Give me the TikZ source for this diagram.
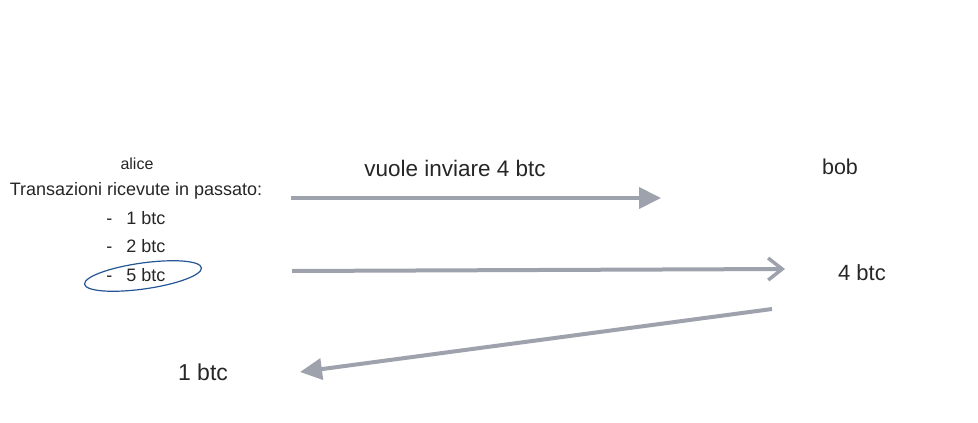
\documentclass[tikz,border=0pt]{standalone}
\usepackage{fontspec}
\setmainfont{Liberation Sans}
\usetikzlibrary{arrows.meta}
\definecolor{arrowgray}{RGB}{158,162,172}
\definecolor{penblue}{RGB}{36,86,150}
\begin{document}
\begin{tikzpicture}[x=1pt,y=-1pt,
    txt/.style={inner sep=0pt,anchor=center,text=black!85},
    flow/.style={draw=arrowgray,line width=4pt},
    solid head/.style={-{Triangle[length=22pt,width=21pt]}},
    open head/.style={-{Straight Barb[length=14pt,width=22pt,line width=3.5pt]}}]
    \useasboundingbox (0,0) rectangle (978,423);
    % alice and her past transactions
    \node[txt,font=\fontsize{16}{18}\selectfont] (alice) at (137,164) {alice};
    \node[txt,font=\fontsize{18}{20}\selectfont] (past) at (136,191) {Transazioni ricevute in passato:};
    \node[txt,font=\fontsize{18}{20}\selectfont] (one) at (136,218) {-\hspace{14pt}1 btc};
    \node[txt,font=\fontsize{18}{20}\selectfont] (two) at (136,246) {-\hspace{14pt}2 btc};
    \node[txt,font=\fontsize{18}{20}\selectfont] (five) at (136,275) {-\hspace{14pt}5 btc};
    \draw[penblue,line width=1.2pt,rotate around={8:(143,276)}] (143,276) ellipse (59pt and 13pt);
    % bob and the messages
    \node[txt,font=\fontsize{22.5}{24}\selectfont] (wants) at (455,168) {vuole inviare 4 btc};
    \node[txt,font=\fontsize{21.5}{24}\selectfont] (bob) at (840,167) {bob};
    \node[txt,font=\fontsize{22}{24}\selectfont] (four) at (862,273) {4 btc};
    \node[txt,font=\fontsize{23}{24}\selectfont] (change) at (203,372) {1 btc};
    \coordinate (a1) at (291,198);
    \coordinate (b1) at (661,198);
    \coordinate (a2) at (292,271);
    \coordinate (b2) at (785,269);
    \coordinate (a3) at (772,309);
    \coordinate (b3) at (300,372);
    \draw[flow,solid head] (a1) -- (b1);
    \draw[flow,open head] (a2) -- (b2);
    \draw[flow,solid head] (a3) -- (b3);
\end{tikzpicture}
\end{document}
